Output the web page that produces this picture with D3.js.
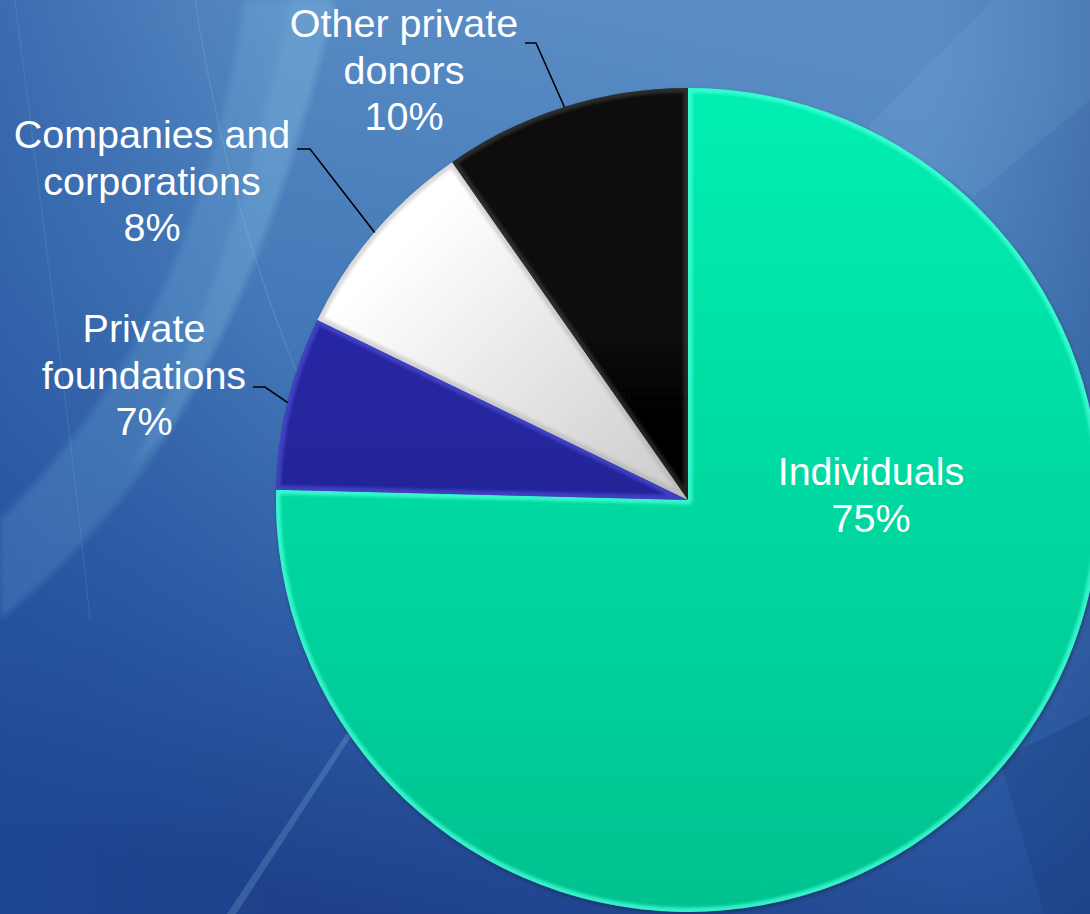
<!DOCTYPE html>
<html>
<head>
<meta charset="utf-8">
<script src="https://cdn.jsdelivr.net/npm/d3@7"></script>
<style>
html,body{margin:0;padding:0;background:#3a6aae;overflow:hidden;}
svg{display:block;}
text{font-family:"Liberation Sans",Arial,sans-serif;}
</style>
</head>
<body>
<svg id="chart" width="1090" height="914"></svg>
<script>
// ---- data ----
const categories = ["Individuals", "Private foundations", "Companies and corporations", "Other private donors"];
const values = [75.4, 6.8, 8.1, 9.7];
const labelLines = [["Individuals"], ["Private", "foundations"], ["Companies and", "corporations"], ["Other private", "donors"]];
const percentLabels = ["75%", "7%", "8%", "10%"];

// ---- layout ----
const W = 1090, H = 914;
const cx = 688, cy = 500, R = 412;
const colors = [
  ["#05efb2", "#03c28f"],
  ["#2a2aae", "#1e1e86"],
  ["#ffffff", "#d4d4d4"],
  ["#0a0a0a", "#000000"]
];
const highlight = ["#48ffdc", "#5252dc", "#a0a0a0", "#8a8a8a"];
const hlOpacity = [0.75, 0.6, 0.4, 0.25];
const labelPos = [
  {x: 871, y: 485, leader: null},
  {x: 144, y: 342, leader: [253, 265, 387]},
  {x: 152, y: 148, leader: [297, 310, 149]},
  {x: 404, y: 37, leader: [525, 536, 43]}
];
const lineH = 46.5;

const svg = d3.select("#chart");
const defs = svg.append("defs");

// background
const bg = defs.append("linearGradient").attr("id", "bg").attr("x1", 0.6).attr("y1", 0).attr("x2", 0.35).attr("y2", 1);
bg.append("stop").attr("offset", 0).attr("stop-color", "#5b8ec5");
bg.append("stop").attr("offset", 0.4).attr("stop-color", "#4479b8");
bg.append("stop").attr("offset", 0.75).attr("stop-color", "#2c5aa3");
bg.append("stop").attr("offset", 1).attr("stop-color", "#1e418a");
svg.append("rect").attr("width", W).attr("height", H).attr("fill", "url(#bg)");

const side = defs.append("linearGradient").attr("id", "side").attr("x1", 0).attr("y1", 0).attr("x2", 1).attr("y2", 0);
side.append("stop").attr("offset", 0).attr("stop-color", "#1f4c9c").attr("stop-opacity", 0.45);
side.append("stop").attr("offset", 0.25).attr("stop-color", "#1f4c9c").attr("stop-opacity", 0);
side.append("stop").attr("offset", 0.85).attr("stop-color", "#1f4c9c").attr("stop-opacity", 0);
side.append("stop").attr("offset", 1).attr("stop-color", "#16367a").attr("stop-opacity", 0.3);
svg.append("rect").attr("width", W).attr("height", H).attr("fill", "url(#side)");

const soft = defs.append("filter").attr("id", "soft").attr("x", -0.2).attr("y", -0.2).attr("width", 1.4).attr("height", 1.4);
soft.append("feGaussianBlur").attr("stdDeviation", 3);

// swooshes
const sw = svg.append("g");
sw.append("path").attr("d", "M245,0 L335,0 C300,150 250,300 170,430 C120,510 60,570 0,620 L0,520 C80,440 140,350 180,250 C210,170 232,90 245,0 Z")
  .attr("fill", "#8fd0ee").attr("opacity", 0.17).attr("filter", "url(#soft)");
sw.append("path").attr("d", "M290,0 L335,0 C300,150 250,300 170,430 L130,470 C200,340 255,180 290,0 Z")
  .attr("fill", "#a0daf4").attr("opacity", 0.12).attr("filter", "url(#soft)");
sw.append("path").attr("d", "M867,127 L993,0 L1090,0 L1090,100 L973,197 C940,170 900,150 867,127 Z")
  .attr("fill", "#8fd0ee").attr("opacity", 0.1);
sw.append("path").attr("d", "M227,914 L236,914 L352,735 L347,733 Z").attr("fill", "#9fd8f5").attr("opacity", 0.2);
sw.append("path").attr("d", "M15,0 C40,200 70,420 90,620").attr("fill", "none").attr("stroke", "#a8dcf5").attr("stroke-width", 1.2).attr("opacity", 0.12);
sw.append("path").attr("d", "M195,0 C215,130 250,260 300,380").attr("fill", "none").attr("stroke", "#a8dcf5").attr("stroke-width", 1.2).attr("opacity", 0.18);
sw.append("path").attr("d", "M1000,760 C1030,745 1060,730 1090,715 L1090,914 L1045,914 Z").attr("fill", "#14306e").attr("opacity", 0.22);

// gradients for slices
colors.forEach((c, i) => {
  const g = defs.append("linearGradient").attr("id", "sg" + i)
    .attr("gradientUnits", "userSpaceOnUse")
    .attr("x1", 0).attr("y1", -R).attr("x2", 0).attr("y2", R);
  g.append("stop").attr("offset", 0).attr("stop-color", c[0]);
  g.append("stop").attr("offset", 1).attr("stop-color", c[1]);
});
const wg = defs.append("linearGradient").attr("id", "sg2w")
  .attr("gradientUnits", "userSpaceOnUse")
  .attr("x1", -270).attr("y1", -270).attr("x2", -30).attr("y2", -20);
wg.append("stop").attr("offset", 0).attr("stop-color", "#ffffff");
wg.append("stop").attr("offset", 1).attr("stop-color", "#cfcfcf");

const shadow = defs.append("filter").attr("id", "shadow").attr("x", -0.1).attr("y", -0.1).attr("width", 1.2).attr("height", 1.2);
shadow.append("feDropShadow").attr("dx", 1).attr("dy", 2).attr("stdDeviation", 2).attr("flood-color", "#000").attr("flood-opacity", 0.3);

const bevBlur = defs.append("filter").attr("id", "bevblur").attr("x", -0.1).attr("y", -0.1).attr("width", 1.2).attr("height", 1.2);
bevBlur.append("feGaussianBlur").attr("stdDeviation", 1.6);

const pie = d3.pie().sort(null).startAngle(0).endAngle(2 * Math.PI).value(d => d);
const arcs = pie(values);
const arc = d3.arc().innerRadius(0).outerRadius(R);

const g = svg.append("g").attr("transform", `translate(${cx},${cy})`);

arcs.forEach((d, i) => {
  defs.append("clipPath").attr("id", "clip" + i).append("path").attr("d", arc(d));
});

const sl = g.append("g").attr("filter", "url(#shadow)");
sl.selectAll("path.slice").data(arcs).join("path")
  .attr("class", "slice")
  .attr("d", arc)
  .attr("fill", (d, i) => i === 2 ? "url(#sg2w)" : `url(#sg${i})`);

// soft bevel
arcs.forEach((d, i) => {
  g.append("g").attr("clip-path", `url(#clip${i})`)
    .append("path")
    .attr("d", arc(d))
    .attr("fill", "none")
    .attr("stroke", highlight[i])
    .attr("stroke-width", 9)
    .attr("stroke-linejoin", "round")
    .attr("filter", "url(#bevblur)")
    .attr("opacity", hlOpacity[i]);
});

// leader lines
const lg = svg.append("g");
arcs.forEach((d, i) => {
  const lp = labelPos[i];
  if (!lp.leader) return;
  const mid = (d.startAngle + d.endAngle) / 2;
  const ex = cx + R * Math.sin(mid), ey = cy - R * Math.cos(mid);
  const [x0, x1, y] = lp.leader;
  lg.append("path")
    .attr("d", `M${x0},${y} L${x1},${y} L${ex},${ey}`)
    .attr("fill", "none").attr("stroke", "#000").attr("stroke-width", 1.6);
});

// labels
const tg = svg.append("g");
arcs.forEach((d, i) => {
  const lp = labelPos[i];
  const lines = labelLines[i].concat([percentLabels[i]]);
  const t = tg.append("text")
    .attr("text-anchor", "middle")
    .attr("fill", "#ffffff")
    .attr("font-size", 39.5);
  lines.forEach((ln, k) => {
    t.append("tspan").attr("x", lp.x).attr("y", lp.y + k * lineH).text(ln);
  });
});
</script>
</body>
</html>
